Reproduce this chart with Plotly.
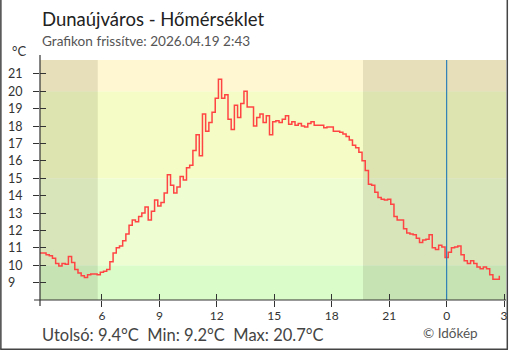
import pandas as pd
import plotly.graph_objects as go

# --- data -------------------------------------------------------------
START = "2026-04-18 02:45"
STEP = "10min"
temps = [
    10.7, 10.7, 10.6, 10.55, 10.4, 10.1, 9.95, 10.1, 10.05, 10.5,
    10.15, 9.75, 9.55, 9.4, 9.3, 9.45, 9.5, 9.5, 9.45, 9.6,
    9.65, 9.75, 10.2, 10.7, 11.0, 11.1, 11.4, 11.8, 12.3, 12.6,
    12.5, 12.8, 13.0, 13.35, 12.6, 13.1, 13.75, 13.4, 13.6, 14.15,
    15.2, 14.6, 14.15, 14.5, 15.1, 14.9, 15.6, 15.75, 16.6, 17.5,
    16.3, 18.7, 17.7, 18.2, 18.8, 19.6, 20.7, 19.6, 19.8, 18.4,
    17.8, 19.2, 18.5, 19.3, 20.0, 19.1, 19.1, 18.0, 18.5, 18.7,
    18.2, 18.6, 17.5, 18.25, 18.3, 18.2, 18.4, 18.6, 18.1, 18.25,
    18.05, 18.15, 18.0, 17.95, 18.15, 18.25, 18.05, 18.05, 18.05, 17.9,
    17.95, 17.95, 17.7, 17.7, 17.65, 17.55, 17.4, 17.2, 16.9, 16.75,
    16.5, 16.0, 15.45, 14.65, 14.6, 14.2, 13.9, 13.8, 13.75, 13.8,
    13.5, 12.8, 12.6, 12.6, 12.1, 11.85, 11.8, 11.75, 11.55, 11.3,
    11.45, 11.5, 11.75, 11.0, 10.9, 11.15, 11.05, 10.45, 10.75, 11.0,
    11.05, 11.1, 10.6, 10.25, 10.1, 10.25, 10.1, 9.9, 9.8, 9.9,
    9.8, 9.45, 9.2, 9.2, 9.4,
]
times = pd.date_range(START, periods=len(temps), freq=STEP)

x_range = ["2026-04-18 02:46", "2026-04-19 03:06"]
y_range = [8, 21.8]

band_edges = [8, 10, 15, 20, 21.8]
band_colors = ["#dafcc9", "#effdd3", "#f5fcc5", "#fef7d1"]

night_spans = [
    ("2026-04-18 02:46", "2026-04-18 05:47"),
    ("2026-04-18 19:38", "2026-04-19 03:06"),
]
midnight = "2026-04-19 00:00"

x_tick_vals = [
    "2026-04-18 06:00", "2026-04-18 09:00", "2026-04-18 12:00",
    "2026-04-18 15:00", "2026-04-18 18:00", "2026-04-18 21:00",
    "2026-04-19 00:00", "2026-04-19 03:00",
]
x_tick_text = ["6", "9", "12", "15", "18", "21", "0", "3"]
y_tick_vals = [9, 10, 11, 12, 13, 14, 15, 16, 17, 18, 19, 20, 21]

title = "Dunaújváros - Hőmérséklet"
subtitle = "Grafikon frissítve: 2026.04.19 2:43"
unit = "°C"
footer = "Utolsó: 9.4°C  Min: 9.2°C  Max: 20.7°C"
credit = "© Időkép"

# --- layout geometry ----------------------------------------------------
W, H = 510, 350
ML, MR, MT, MB = 40, 2, 60, 50
PW, PH = W - ML - MR, H - MT - MB
FONT = "Lato, sans-serif"
AXIS_COLOR = "#333333"


def px_x(px):
    return (px - ML) / PW


def px_y(py):
    return (H - MB - py) / PH


fig = go.Figure()

fig.add_trace(go.Scatter(
    x=times, y=temps, mode="lines", line_shape="hv",
    line=dict(color="#ff4444", width=1.5),
    hoverinfo="skip", showlegend=False,
))
# helper trace so the overlay axes (inner half of the ticks) get drawn
fig.add_trace(go.Scatter(
    x=times, y=temps, mode="lines", xaxis="x2", yaxis="y2",
    line=dict(color="rgba(0,0,0,0)", width=0),
    hoverinfo="skip", showlegend=False,
))

shapes = []
for lo, hi, col in zip(band_edges[:-1], band_edges[1:], band_colors):
    shapes.append(dict(type="rect", xref="paper", yref="y", x0=0, x1=1,
                       y0=lo, y1=hi, fillcolor=col, line_width=0,
                       layer="below"))
for a, b in night_spans:
    shapes.append(dict(type="rect", xref="x", yref="paper", x0=a, x1=b,
                       y0=0, y1=1, fillcolor="rgba(40,40,0,0.11)",
                       line_width=0, layer="below"))
shapes.append(dict(type="line", xref="x", yref="paper", x0=midnight,
                   x1=midnight, y0=0, y1=1,
                   line=dict(color="#2f80b8", width=1.2), layer="above"))
# axis lines, running a little past the corner
shapes.append(dict(type="line", xref="paper", yref="paper",
                   x0=px_x(34), x1=1, y0=0, y1=0,
                   line=dict(color=AXIS_COLOR, width=1.2)))
shapes.append(dict(type="line", xref="paper", yref="paper",
                   x0=0, x1=0, y0=px_y(306), y1=px_y(55),
                   line=dict(color=AXIS_COLOR, width=1.2)))
# frame around the chart
frame = dict(color="#444444", width=1.5)
shapes.append(dict(type="line", xref="paper", yref="paper",
                   x0=px_x(0.7), x1=px_x(0.7), y0=px_y(0), y1=px_y(349.3),
                   line=frame))
shapes.append(dict(type="line", xref="paper", yref="paper",
                   x0=px_x(509.3), x1=px_x(509.3), y0=px_y(0), y1=px_y(349.3),
                   line=frame))
shapes.append(dict(type="line", xref="paper", yref="paper",
                   x0=px_x(0), x1=px_x(510), y0=px_y(349.3), y1=px_y(349.3),
                   line=frame))

annotations = [
    dict(text=title, xref="paper", yref="paper", x=px_x(40), y=px_y(19),
         xanchor="left", yanchor="middle", showarrow=False,
         font=dict(family=FONT, size=18.5, color="#222222")),
    dict(text=subtitle, xref="paper", yref="paper", x=px_x(40), y=px_y(41.5),
         xanchor="left", yanchor="middle", showarrow=False,
         font=dict(family=FONT, size=13.6, color="#555555")),
    dict(text=unit, xref="paper", yref="paper", x=px_x(10), y=px_y(50.5),
         xanchor="left", yanchor="middle", showarrow=False,
         font=dict(family=FONT, size=13, color="#333333")),
    dict(text=footer, xref="paper", yref="paper", x=px_x(40), y=px_y(334.5),
         xanchor="left", yanchor="middle", showarrow=False,
         font=dict(family=FONT, size=16.5, color="#444444")),
    dict(text=credit, xref="paper", yref="paper", x=px_x(482), y=px_y(333),
         xanchor="right", yanchor="middle", showarrow=False,
         font=dict(family=FONT, size=13.5, color="#555555")),
]
for v in y_tick_vals:
    annotations.append(dict(text=str(v), xref="paper", yref="y",
                            x=px_x(6), y=v, xanchor="left",
                            yanchor="middle", showarrow=False,
                            font=dict(family=FONT, size=12.5,
                                      color="#333333")))

tick_style = dict(ticklen=6, tickwidth=1, tickcolor=AXIS_COLOR,
                  showgrid=False, zeroline=False, showline=False)

fig.update_layout(
    width=W, height=H, autosize=False,
    margin=dict(l=ML, r=MR, t=MT, b=MB, pad=0),
    paper_bgcolor="white", plot_bgcolor="white",
    showlegend=False,
    shapes=shapes, annotations=annotations,
    xaxis=dict(type="date", range=x_range, tickmode="array",
               tickvals=x_tick_vals, ticktext=x_tick_text,
               ticks="outside", ticklabelstandoff=-1,
               tickfont=dict(family=FONT, size=12, color="#333333"),
               **tick_style),
    yaxis=dict(range=y_range, tickmode="array", tickvals=y_tick_vals,
               ticks="outside", showticklabels=False, **tick_style),
    xaxis2=dict(type="date", range=x_range, overlaying="x",
                anchor="y2", tickmode="array", tickvals=x_tick_vals,
                ticks="inside", showticklabels=False, **tick_style),
    yaxis2=dict(range=y_range, overlaying="y", anchor="x2",
                tickmode="array", tickvals=y_tick_vals, ticks="inside",
                showticklabels=False, **tick_style),
)

fig.write_html("out.html")
